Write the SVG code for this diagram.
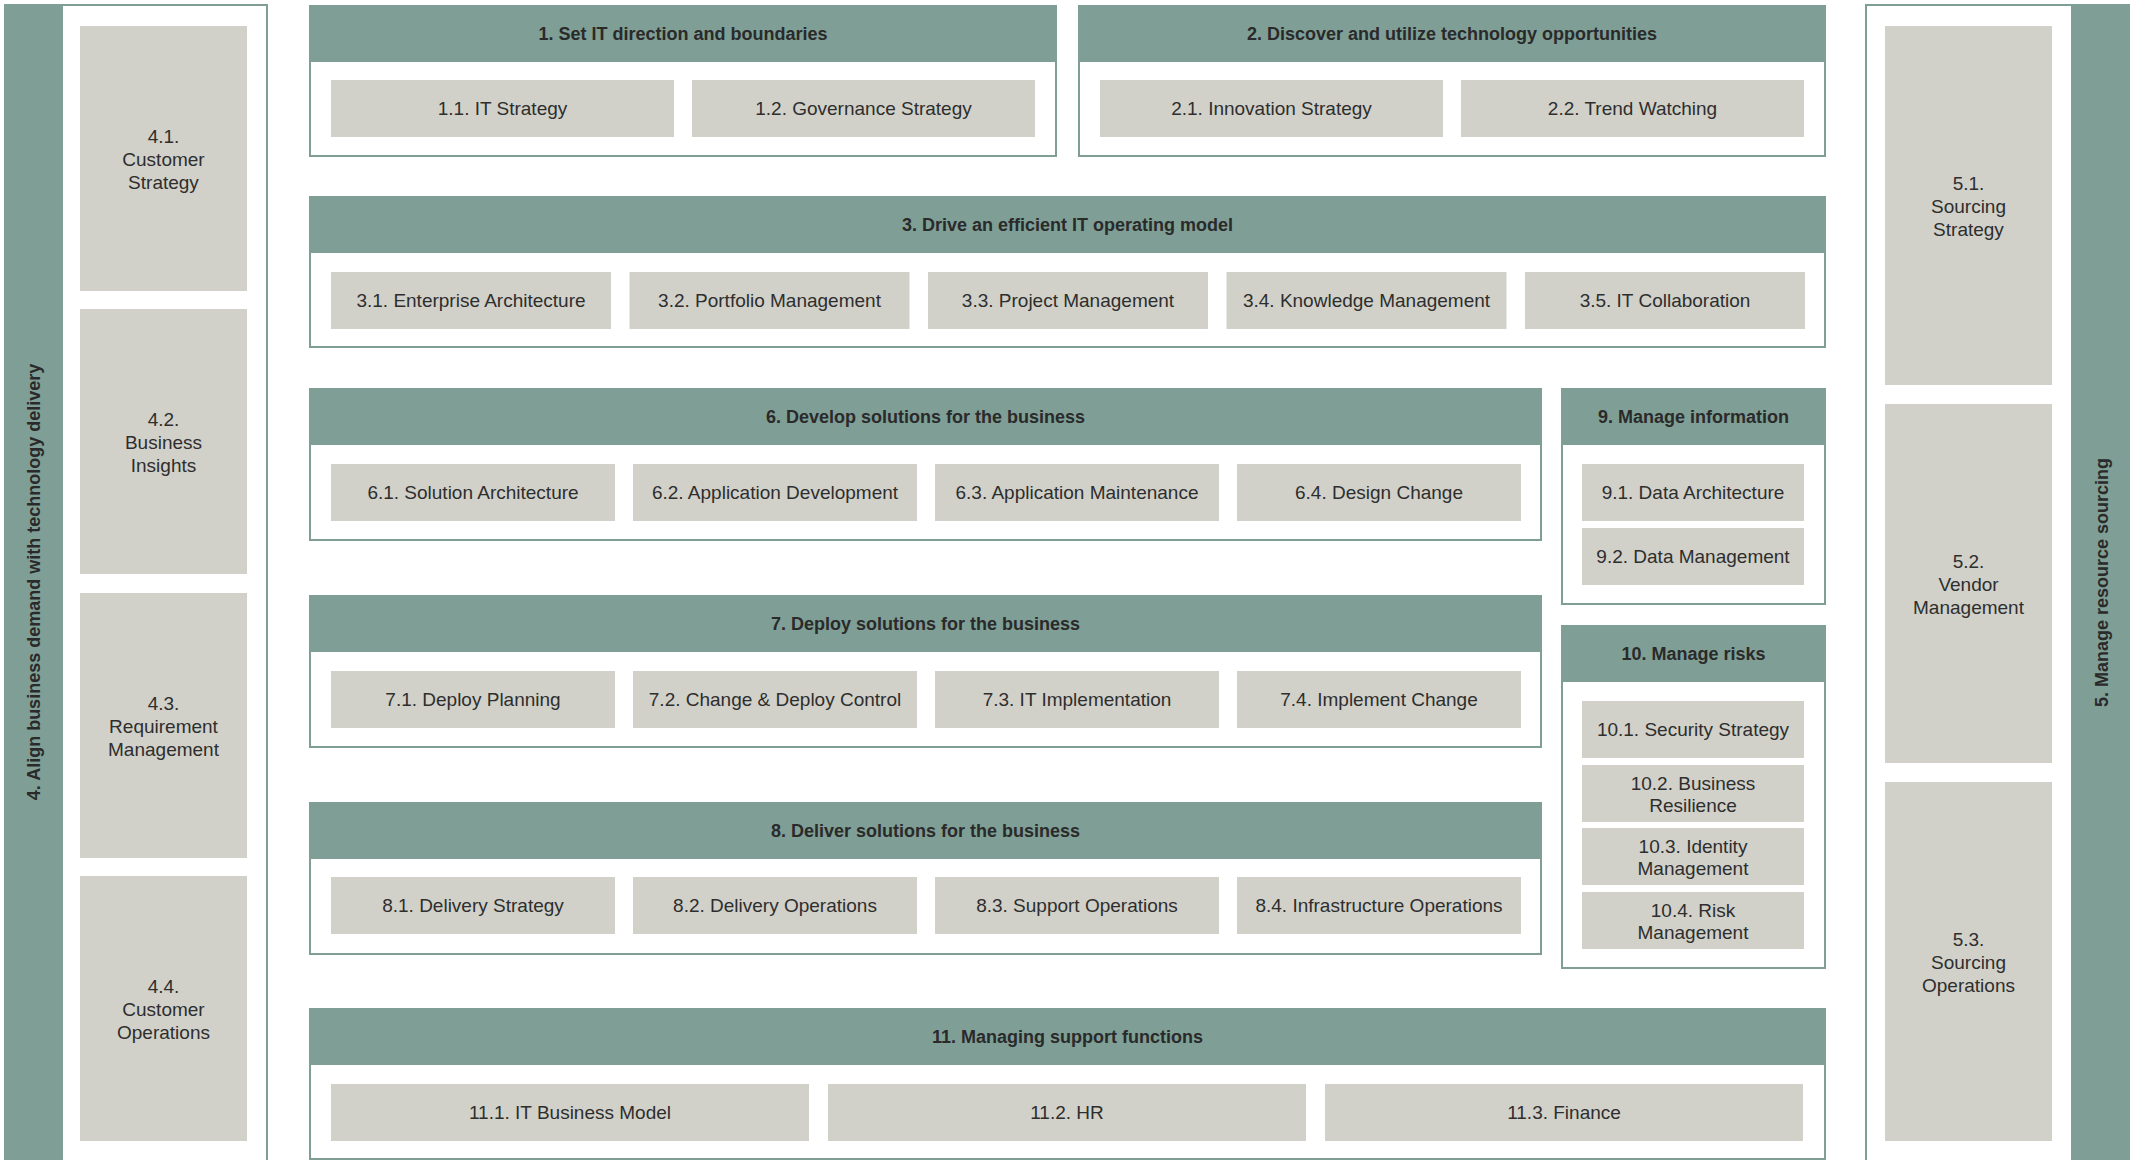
<svg xmlns="http://www.w3.org/2000/svg" width="2134" height="1160" viewBox="0 0 2134 1160">
<style>
.bg{fill:#ffffff}
.bar{fill:#7f9f96}
.box{fill:#ffffff;stroke:#7f9f96;stroke-width:2}
.hdr{fill:#7f9f96}
.card{fill:#d1d1c9}
.t{font-family:"Liberation Sans",Arial,sans-serif;font-size:19px;fill:#2e2e2e;text-anchor:middle}
.h{font-family:"Liberation Sans",Arial,sans-serif;font-size:18px;font-weight:bold;fill:#2a2a2a;text-anchor:middle}
</style>
<rect class="bg" x="0" y="0" width="2134" height="1160"/>

<g id="group-4">
<rect class="box" x="62" y="5" width="205" height="1156"/>
<rect class="bar" x="4" y="4" width="57" height="1156"/>
<text class="h" transform="translate(40,582) rotate(-90)">4. Align business demand with technology delivery</text>
</g>
<g id="node-4-1"><rect class="card" x="80" y="26" width="167" height="265"/><text class="t"><tspan x="163.5" y="143">4.1.</tspan><tspan x="163.5" y="166">Customer</tspan><tspan x="163.5" y="189">Strategy</tspan></text></g>
<g id="node-4-2"><rect class="card" x="80" y="309" width="167" height="265"/><text class="t"><tspan x="163.5" y="426">4.2.</tspan><tspan x="163.5" y="449">Business</tspan><tspan x="163.5" y="472">Insights</tspan></text></g>
<g id="node-4-3"><rect class="card" x="80" y="593" width="167" height="265"/><text class="t"><tspan x="163.5" y="710">4.3.</tspan><tspan x="163.5" y="733">Requirement</tspan><tspan x="163.5" y="756">Management</tspan></text></g>
<g id="node-4-4"><rect class="card" x="80" y="876" width="167" height="265"/><text class="t"><tspan x="163.5" y="993">4.4.</tspan><tspan x="163.5" y="1016">Customer</tspan><tspan x="163.5" y="1039">Operations</tspan></text></g>

<g id="group-5">
<rect class="box" x="1866" y="5" width="206" height="1156"/>
<rect class="bar" x="2073" y="4" width="57" height="1156"/>
<text class="h" transform="translate(2108,582.5) rotate(-90)">5. Manage resource sourcing</text>
</g>
<g id="node-5-1"><rect class="card" x="1885" y="26" width="167" height="359"/><text class="t"><tspan x="1968.5" y="190">5.1.</tspan><tspan x="1968.5" y="213">Sourcing</tspan><tspan x="1968.5" y="236">Strategy</tspan></text></g>
<g id="node-5-2"><rect class="card" x="1885" y="404" width="167" height="359"/><text class="t"><tspan x="1968.5" y="568">5.2.</tspan><tspan x="1968.5" y="591">Vendor</tspan><tspan x="1968.5" y="614">Management</tspan></text></g>
<g id="node-5-3"><rect class="card" x="1885" y="782" width="167" height="359"/><text class="t"><tspan x="1968.5" y="946">5.3.</tspan><tspan x="1968.5" y="969">Sourcing</tspan><tspan x="1968.5" y="992">Operations</tspan></text></g>

<g id="group-1">
<rect class="box" x="310" y="6" width="746" height="150"/>
<rect class="hdr" x="309" y="5" width="748" height="57"/>
<text class="h" x="683" y="40">1. Set IT direction and boundaries</text>
</g>
<g id="node-1-1"><rect class="card" x="331" y="80" width="343" height="57"/><text class="t" x="502.5" y="115">1.1. IT Strategy</text></g>
<g id="node-1-2"><rect class="card" x="692" y="80" width="343" height="57"/><text class="t" x="863.5" y="115">1.2. Governance Strategy</text></g>

<g id="group-2">
<rect class="box" x="1079" y="6" width="746" height="150"/>
<rect class="hdr" x="1078" y="5" width="748" height="57"/>
<text class="h" x="1452" y="40">2. Discover and utilize technology opportunities</text>
</g>
<g id="node-2-1"><rect class="card" x="1100" y="80" width="343" height="57"/><text class="t" x="1271.5" y="115">2.1. Innovation Strategy</text></g>
<g id="node-2-2"><rect class="card" x="1461" y="80" width="343" height="57"/><text class="t" x="1632.5" y="115">2.2. Trend Watching</text></g>

<g id="group-3">
<rect class="box" x="310" y="197" width="1515" height="150"/>
<rect class="hdr" x="309" y="196" width="1517" height="57"/>
<text class="h" x="1067.5" y="231">3. Drive an efficient IT operating model</text>
</g>
<g id="node-3-1"><rect class="card" x="331" y="272" width="280" height="57"/><text class="t" x="471" y="307">3.1. Enterprise Architecture</text></g>
<g id="node-3-2"><rect class="card" x="629.5" y="272" width="280" height="57"/><text class="t" x="769.5" y="307">3.2. Portfolio Management</text></g>
<g id="node-3-3"><rect class="card" x="928" y="272" width="280" height="57"/><text class="t" x="1068" y="307">3.3. Project Management</text></g>
<g id="node-3-4"><rect class="card" x="1226.5" y="272" width="280" height="57"/><text class="t" x="1366.5" y="307">3.4. Knowledge Management</text></g>
<g id="node-3-5"><rect class="card" x="1525" y="272" width="280" height="57"/><text class="t" x="1665" y="307">3.5. IT Collaboration</text></g>

<g id="group-6">
<rect class="box" x="310" y="389" width="1231" height="151"/>
<rect class="hdr" x="309" y="388" width="1233" height="57"/>
<text class="h" x="925.5" y="423">6. Develop solutions for the business</text>
</g>
<g id="node-6-1"><rect class="card" x="331" y="464" width="284" height="57"/><text class="t" x="473" y="499">6.1. Solution Architecture</text></g>
<g id="node-6-2"><rect class="card" x="633" y="464" width="284" height="57"/><text class="t" x="775" y="499">6.2. Application Development</text></g>
<g id="node-6-3"><rect class="card" x="935" y="464" width="284" height="57"/><text class="t" x="1077" y="499">6.3. Application Maintenance</text></g>
<g id="node-6-4"><rect class="card" x="1237" y="464" width="284" height="57"/><text class="t" x="1379" y="499">6.4. Design Change</text></g>

<g id="group-7">
<rect class="box" x="310" y="596" width="1231" height="151"/>
<rect class="hdr" x="309" y="595" width="1233" height="57"/>
<text class="h" x="925.5" y="630">7. Deploy solutions for the business</text>
</g>
<g id="node-7-1"><rect class="card" x="331" y="671" width="284" height="57"/><text class="t" x="473" y="706">7.1. Deploy Planning</text></g>
<g id="node-7-2"><rect class="card" x="633" y="671" width="284" height="57"/><text class="t" x="775" y="706">7.2. Change &amp; Deploy Control</text></g>
<g id="node-7-3"><rect class="card" x="935" y="671" width="284" height="57"/><text class="t" x="1077" y="706">7.3. IT Implementation</text></g>
<g id="node-7-4"><rect class="card" x="1237" y="671" width="284" height="57"/><text class="t" x="1379" y="706">7.4. Implement Change</text></g>

<g id="group-8">
<rect class="box" x="310" y="803" width="1231" height="151"/>
<rect class="hdr" x="309" y="802" width="1233" height="57"/>
<text class="h" x="925.5" y="837">8. Deliver solutions for the business</text>
</g>
<g id="node-8-1"><rect class="card" x="331" y="877" width="284" height="57"/><text class="t" x="473" y="912">8.1. Delivery Strategy</text></g>
<g id="node-8-2"><rect class="card" x="633" y="877" width="284" height="57"/><text class="t" x="775" y="912">8.2. Delivery Operations</text></g>
<g id="node-8-3"><rect class="card" x="935" y="877" width="284" height="57"/><text class="t" x="1077" y="912">8.3. Support Operations</text></g>
<g id="node-8-4"><rect class="card" x="1237" y="877" width="284" height="57"/><text class="t" x="1379" y="912">8.4. Infrastructure Operations</text></g>

<g id="group-9">
<rect class="box" x="1562" y="389" width="263" height="215"/>
<rect class="hdr" x="1561" y="388" width="265" height="57"/>
<text class="h" x="1693.5" y="423">9. Manage information</text>
</g>
<g id="node-9-1"><rect class="card" x="1582" y="464" width="222" height="57"/><text class="t" x="1693" y="499">9.1. Data Architecture</text></g>
<g id="node-9-2"><rect class="card" x="1582" y="528" width="222" height="57"/><text class="t" x="1693" y="563">9.2. Data Management</text></g>

<g id="group-10">
<rect class="box" x="1562" y="626" width="263" height="342"/>
<rect class="hdr" x="1561" y="625" width="265" height="57"/>
<text class="h" x="1693.5" y="660">10. Manage risks</text>
</g>
<g id="node-10-1"><rect class="card" x="1582" y="701" width="222" height="57"/><text class="t" x="1693" y="736">10.1. Security Strategy</text></g>
<g id="node-10-2"><rect class="card" x="1582" y="765" width="222" height="57"/><text class="t"><tspan x="1693" y="789.5">10.2. Business</tspan><tspan x="1693" y="811.5">Resilience</tspan></text></g>
<g id="node-10-3"><rect class="card" x="1582" y="828" width="222" height="57"/><text class="t"><tspan x="1693" y="852.5">10.3. Identity</tspan><tspan x="1693" y="874.5">Management</tspan></text></g>
<g id="node-10-4"><rect class="card" x="1582" y="892" width="222" height="57"/><text class="t"><tspan x="1693" y="916.5">10.4. Risk</tspan><tspan x="1693" y="938.5">Management</tspan></text></g>

<g id="group-11">
<rect class="box" x="310" y="1009" width="1515" height="150"/>
<rect class="hdr" x="309" y="1008" width="1517" height="57"/>
<text class="h" x="1067.5" y="1043">11. Managing support functions</text>
</g>
<g id="node-11-1"><rect class="card" x="331" y="1084" width="478" height="57"/><text class="t" x="570" y="1119">11.1. IT Business Model</text></g>
<g id="node-11-2"><rect class="card" x="828" y="1084" width="478" height="57"/><text class="t" x="1067" y="1119">11.2. HR</text></g>
<g id="node-11-3"><rect class="card" x="1325" y="1084" width="478" height="57"/><text class="t" x="1564" y="1119">11.3. Finance</text></g>

<g id="connectors"></g>
</svg>
